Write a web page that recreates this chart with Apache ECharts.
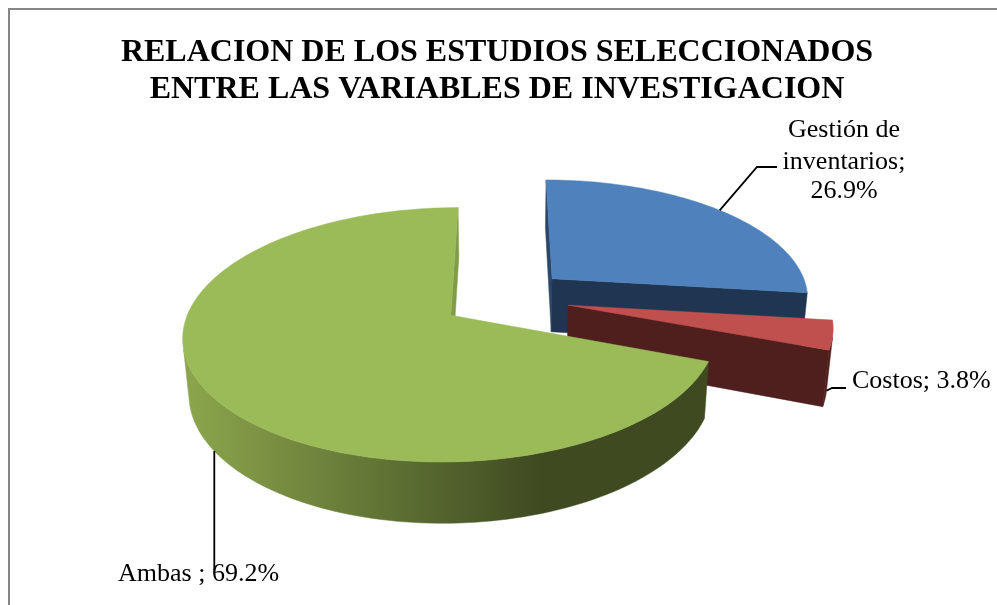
<!DOCTYPE html>
<html><head><meta charset="utf-8">
<style>html,body{margin:0;padding:0;background:#fff;overflow:hidden}#c{width:997px;height:605px}</style>
<script src="https://cdn.jsdelivr.net/npm/echarts@6/dist/echarts.min.js"></script>
</head><body><div id="c"></div>
<script>
var categories = ['Gestión de inventarios', 'Costos', 'Ambas'];
var shares = [26.9, 3.8, 69.2];
var labelLines = [['Gestión de', 'inventarios;', '26.9%'], ['Costos; 3.8%'], ['Ambas ; 69.2%']];
var titleLines = ['RELACION DE LOS ESTUDIOS SELECCIONADOS', 'ENTRE LAS VARIABLES DE INVESTIGACION'];

var topColors = ['#4f81bd', '#c0504d', '#9bbb59'];
var cutColors = [['#2b4669', '#1f3552'], ['#4f1f1d', '#4f1f1d'], ['#7f9c49', '#7f9c49']];

// projection of the tilted pie
var CX = 505, CY = 298, F = 1527, D = 5.92, SIN = 0.4612, COS = 0.888, H = 0.24, EXPLODE = 0.25;
function proj(X, Z, Y) {
  var dd = D - Z * COS - Y * SIN;
  return [CX + F * X / dd, CY + F * (Z * SIN - Y * COS) / dd];
}
var total = shares.reduce(function (a, b) { return a + b; }, 0);
var slices = [];
(function () {
  var a = 0;
  shares.forEach(function (v) {
    var sw = v / total * Math.PI * 2;
    var m = a + sw / 2;
    slices.push({ a0: a, a1: a + sw, m: m, ox: EXPLODE * Math.sin(m), oz: -EXPLODE * Math.cos(m) });
    a += sw;
  });
})();
function rim(s, t, Y) { return proj(s.ox + Math.sin(t), s.oz - Math.cos(t), Y); }
function apex(s, Y) { return proj(s.ox, s.oz, Y); }
function area(p) {
  var r = 0;
  for (var i = 0; i < p.length; i++) { var q = p[(i + 1) % p.length]; r += p[i][0] * q[1] - q[0] * p[i][1]; }
  return r / 2;
}
function poly(points, fill) {
  return { type: 'polygon', shape: { points: points }, style: { fill: fill, stroke: fill, lineWidth: 0.5 } };
}
function wallFill(i) {
  if (i === 0) return '#1f3552';
  if (i === 1) return '#4f1f1d';
  return { type: 'linear', x: 190, y: 0, x2: 540, y2: 0, global: true, colorStops: [
    { offset: 0, color: '#8aa54c' }, { offset: 1, color: '#3f4a21' }] };
}
function renderSlice(params, api) {
  var i = api.value(0), s = slices[i], kids = [];
  var N = 240, tops = [], k, t;
  // cut walls, only where they face the viewer
  [[s.a0, 1, 0], [s.a1, -1, 1]].forEach(function (c) {
    var q = [apex(s, 0), rim(s, c[0], 0), rim(s, c[0], -H), apex(s, -H)];
    if (area(q) * c[1] < 0) kids.push(poly(q, cutColors[i][c[2]]));
  });
  // outer wall: front-facing stretch of the rim
  var n = Math.max(2, Math.round(N * (s.a1 - s.a0) / (Math.PI * 2)));
  var run = [];
  function flush() {
    if (run.length > 1) {
      var up = run.map(function (t) { return rim(s, t, 0); });
      var dn = run.map(function (t) { return rim(s, t, -H); }).reverse();
      kids.push(poly(up.concat(dn), wallFill(i)));
    }
    run = [];
  }
  for (k = 0; k <= n; k++) {
    t = s.a0 + (s.a1 - s.a0) * k / n;
    var t2 = t + 0.004;
    var seg = [rim(s, t, 0), rim(s, t2, 0), rim(s, t2, -H), rim(s, t, -H)];
    if (area(seg) < 0) run.push(t); else flush();
  }
  flush();
  // top face
  tops.push(apex(s, 0));
  for (k = 0; k <= n; k++) tops.push(rim(s, s.a0 + (s.a1 - s.a0) * k / n, 0));
  kids.push(poly(tops, topColors[i]));
  return { type: 'group', children: kids };
}
function line(points) {
  return { type: 'polyline', shape: { points: points }, style: { stroke: '#000', lineWidth: 1.8, fill: null }, z2: 10 };
}
function text(str, x, y, align) {
  return { type: 'text', x: x, y: y, z2: 11, style: { text: str, fill: '#000', align: align || 'center', verticalAlign: 'middle',
    font: '26px "Liberation Serif"' } };
}
function renderLabels(params, api) {
  var i = api.value(0), s = slices[i], kids = [];
  if (i === 0) {
    var p = rim(s, s.m, 0);
    kids.push(line([p, [757, 167], [777, 167]]));
    [130, 162, 191].forEach(function (y, j) { kids.push(text(labelLines[0][j], 844, y)); });
  } else if (i === 1) {
    var r = rim(s, s.m, -H);
    kids.push(line([r, [832, 388], [846, 388]]));
    kids.push(text(labelLines[1][0], 852, 381, 'left'));
  } else {
    var g = rim(s, s.m, -H);
    kids.push(line([g, [g[0], 570]]));
    kids.push(text(labelLines[2][0], 118, 574, 'left'));
  }
  return { type: 'group', children: kids };
}
var chart = echarts.init(document.getElementById('c'), null, { renderer: 'canvas' });
var rows = categories.map(function (c, i) { return [i, shares[i], c]; });
chart.setOption({
  animation: false,
  backgroundColor: '#fff',
  title: {
    text: titleLines.join('\n'), left: 492, top: 29, textAlign: 'center',
    textStyle: { fontFamily: 'Liberation Serif', fontWeight: 'bold', fontSize: 32, lineHeight: 37, color: '#000' }
  },
  graphic: [{ type: 'rect', shape: { x: 9, y: 9, width: 1010, height: 620 }, style: { fill: null, stroke: '#868686', lineWidth: 2 } }],
  series: [
    { type: 'custom', coordinateSystem: 'none', data: rows, renderItem: renderSlice, silent: true, z: 2 },
    { type: 'custom', coordinateSystem: 'none', data: rows, renderItem: renderLabels, silent: true, z: 3 }
  ]
});
</script></body></html>
